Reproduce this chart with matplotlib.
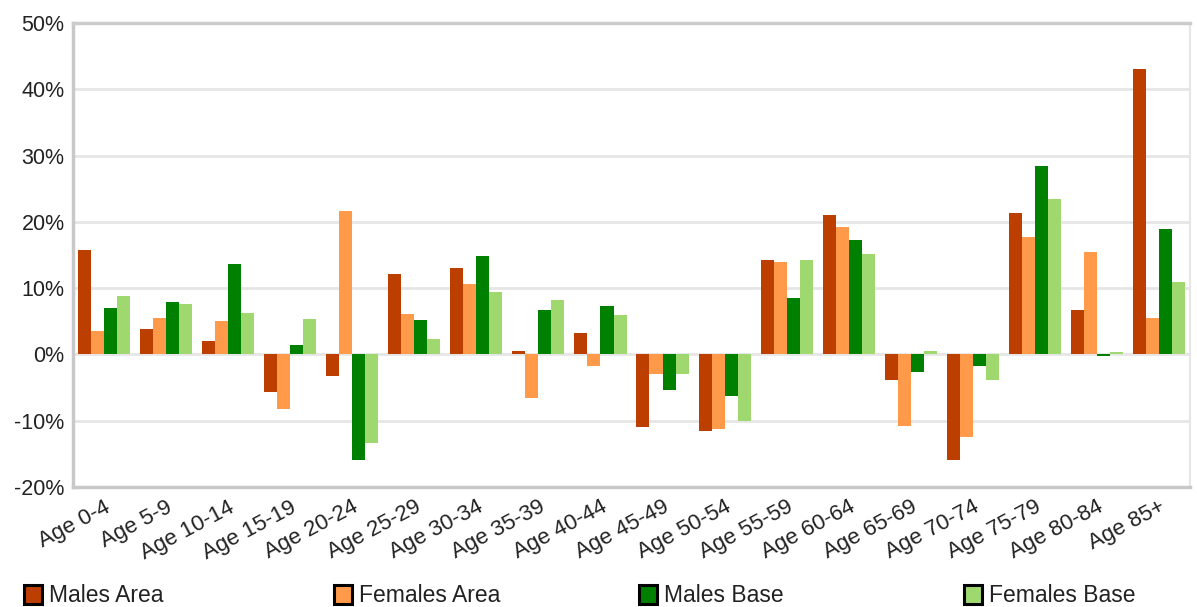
import matplotlib
matplotlib.use("Agg")
import matplotlib.pyplot as plt
import numpy as np
from matplotlib.patches import Rectangle

plt.rcParams['font.family'] = ['Liberation Sans', 'DejaVu Sans']

categories = ["Age 0-4", "Age 5-9", "Age 10-14", "Age 15-19", "Age 20-24", "Age 25-29",
              "Age 30-34", "Age 35-39", "Age 40-44", "Age 45-49", "Age 50-54", "Age 55-59",
              "Age 60-64", "Age 65-69", "Age 70-74", "Age 75-79", "Age 80-84", "Age 85+"]
males_area   = [15.7, 3.8, 2.0, -5.7, -3.3, 12.1, 13.0, 0.5, 3.2, -11.0, -11.6, 14.2, 21.0, -3.9, -16.0, 21.4, 6.7, 43.0]
females_area = [3.5, 5.5, 5.0, -8.3, 21.6, 6.1, 10.6, -6.5, -1.8, -3.0, -11.3, 13.9, 19.2, -10.8, -12.5, 17.7, 15.4, 5.5]
males_base   = [7.0, 7.9, 13.6, 1.4, -16.0, 5.2, 14.8, 6.7, 7.3, -5.4, -6.3, 8.5, 17.2, -2.7, -1.8, 28.5, -0.3, 18.9]
females_base = [8.8, 7.6, 6.2, 5.3, -13.4, 2.3, 9.4, 8.2, 5.9, -3.0, -10.1, 14.2, 15.1, 0.5, -3.9, 23.4, 0.3, 10.9]
series_names = ["Males Area", "Females Area", "Males Base", "Females Base"]
colors = ["#bc3f00", "#ff9a4a", "#008000", "#a0d870"]
yticks = [-20, -10, 0, 10, 20, 30, 40, 50]

W, H = 1197, 607
fig = plt.figure(figsize=(W / 100, H / 100), dpi=100)
ax = fig.add_axes([73 / W, 1 - 487 / H, (1190 - 73) / W, (487 - 23) / H])

x = np.arange(len(categories))
w = 0.21
data = [males_area, females_area, males_base, females_base]
for i, (vals, c) in enumerate(zip(data, colors)):
    ax.bar(x + (i - 1.5) * w, vals, width=w, color=c, linewidth=0, zorder=3)

ax.set_xlim(-0.5, len(categories) - 0.5)
ax.set_ylim(-20, 50)
ax.set_yticks(yticks)
ax.set_yticklabels([f"{v}%" for v in yticks], fontsize=15.5, color="#222222")
ax.yaxis.grid(True, color="#e6e6e6", linewidth=2, zorder=0)
ax.set_axisbelow(True)
ax.tick_params(axis='y', length=0, pad=6)
ax.set_xticks(x)
ax.set_xticklabels(categories, rotation=28, ha='right', rotation_mode='anchor',
                   fontsize=16, color="#222222")
ax.tick_params(axis='x', length=0, pad=7)

for side in ['left', 'bottom']:
    ax.spines[side].set_color("#c8c8c8")
    ax.spines[side].set_linewidth(2.5)
ax.spines['top'].set_color("#cccccc")
ax.spines['top'].set_linewidth(2.5)
ax.spines['right'].set_color("#e6e6e6")
ax.spines['right'].set_linewidth(1.5)

# legend drawn manually in figure pixels
legend_x = [24, 334, 639, 964]
for lx, name, c in zip(legend_x, series_names, colors):
    fig.patches.append(Rectangle((lx / W, 1 - 604 / H), 18 / W, 19 / H,
                                 transform=fig.transFigure, facecolor=c,
                                 edgecolor='black', linewidth=2.2))
    fig.text((lx + 25) / W, 1 - 595 / H, name, fontsize=16.5, color="#222222",
             ha='left', va='center')

fig.savefig("out.png", dpi=100)
